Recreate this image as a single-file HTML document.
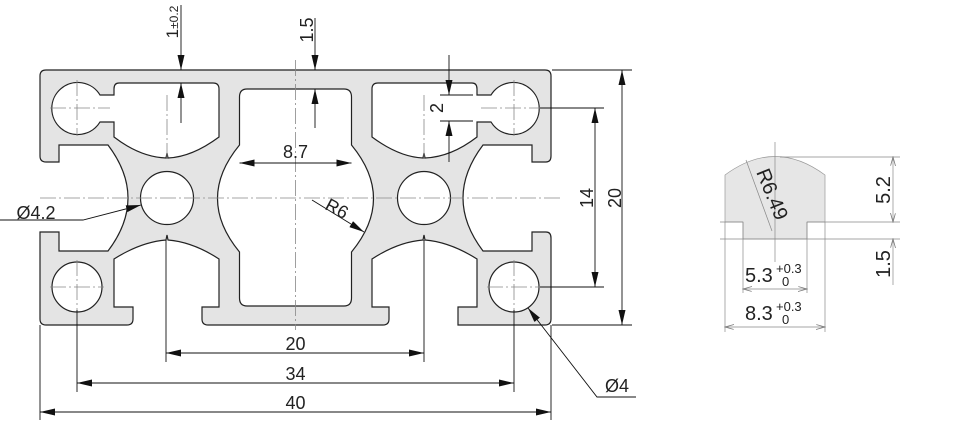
<!DOCTYPE html>
<html><head><meta charset="utf-8"><style>
html,body{margin:0;padding:0;background:#fff;}
svg{display:block;font-family:"Liberation Sans",Arial,sans-serif;}
</style></head><body>
<svg width="956" height="439" viewBox="0 0 956 439" xmlns="http://www.w3.org/2000/svg">
<defs>
<marker id="a" markerUnits="userSpaceOnUse" markerWidth="16" markerHeight="8" refX="15" refY="3.5" orient="auto-start-reverse">
<path d="M0,0 L15,3.5 L0,7 z" fill="#111"/></marker>
<marker id="s" markerUnits="userSpaceOnUse" markerWidth="10" markerHeight="6" refX="9" refY="2.5" orient="auto-start-reverse">
<path d="M0,0 L9,2.5 L0,5" fill="none" stroke="#777" stroke-width="0.8"/></marker>
</defs>

<path d="M46,70 H545 Q551,70 551,76 V156 Q551,162 546,162 H532 V145 H483 Q443,198 483,251 H532 V232 H546 Q551,232 551,238 V319 Q551,325 545,325 H458 V307 H477 V259 Q450,242 425,240 L424,235 L423,240 Q398,242 372,259 V307 H389 V319 Q389,325 383,325 H208 Q202,325 202,319 V307 H219 V259 Q193,242 168,240 L167,235 L166,240 Q141,242 114,259 V307 H133 V319 Q133,325 127,325 H46 Q40,325 40,319 V232 H59 V251 H108 Q148,198 108,145 H59 V162 H46 Q40,162 40,156 V76 Q40,70 46,70 Z" fill="#e4e4e4" stroke="#222" stroke-width="1.2"/>
<g fill="#fff" stroke="#222" stroke-width="1.2">
<path d="M247,89 H344 Q351.5,89 351.5,97 V145 Q395.5,198.5 351.5,252 V298 Q351.5,306 344,306 H247 Q239.5,306 239.5,298 V252 Q195.5,198.5 239.5,145 V97 Q239.5,89 247,89 Z"/>
<g id="L">
<path d="M119,83 H213 Q219,83 219,89 V137 Q192,157 168,158 L167,153 L166,158 Q140,157 114,137 V122 H100 A26 26 0 1 1 100,95 H114 V89 Q114,83 119,83 Z"/>
<circle cx="167" cy="198" r="26.5"/>
<circle cx="77" cy="287" r="25"/>
</g>
<use href="#L" transform="matrix(-1 0 0 1 591 0)"/>
</g>

<g stroke="#888" stroke-width="0.8" stroke-dasharray="16 3 2 3" fill="none">
<line x1="40" y1="198" x2="560" y2="198"/>
<line x1="295.5" y1="60" x2="295.5" y2="330"/>
<line x1="167" y1="95" x2="167" y2="160"/>
<line x1="424" y1="95" x2="424" y2="160"/>
<line x1="50" y1="108" x2="110" y2="108"/><line x1="481" y1="108" x2="541" y2="108"/>
<line x1="77" y1="80" x2="77" y2="136"/><line x1="514" y1="80" x2="514" y2="136"/>
<line x1="50" y1="287" x2="104" y2="287"/><line x1="487" y1="287" x2="541" y2="287"/>
<line x1="77" y1="260" x2="77" y2="312"/><line x1="514" y1="260" x2="514" y2="312"/>
</g>

<g stroke="#111" stroke-width="0.9" fill="none">
<line x1="181" y1="5" x2="181" y2="70" marker-end="url(#a)"/>
<line x1="181" y1="123" x2="181" y2="83" marker-end="url(#a)"/>
<line x1="315" y1="18" x2="315" y2="70" marker-end="url(#a)"/>
<line x1="315" y1="128" x2="315" y2="89" marker-end="url(#a)"/>
<line x1="449" y1="55" x2="449" y2="95" marker-end="url(#a)"/>
<line x1="449" y1="162" x2="449" y2="121" marker-end="url(#a)"/>
<line x1="440" y1="95" x2="473" y2="95"/><line x1="440" y1="121" x2="473" y2="121"/>
<line x1="239.5" y1="163" x2="351.5" y2="163" marker-start="url(#a)" marker-end="url(#a)"/>
<line x1="312" y1="200" x2="364" y2="232" marker-end="url(#a)"/>
<polyline points="0,220 83,220 141,205" marker-end="url(#a)"/>
<polyline points="636,397 597,397 528,308" marker-end="url(#a)"/>
<line x1="552" y1="70" x2="632" y2="70"/><line x1="552" y1="325" x2="632" y2="325"/>
<line x1="540" y1="108" x2="604" y2="108"/><line x1="540" y1="287" x2="604" y2="287"/>
<line x1="622" y1="70" x2="622" y2="325" marker-start="url(#a)" marker-end="url(#a)"/>
<line x1="595" y1="108" x2="595" y2="287" marker-start="url(#a)" marker-end="url(#a)"/>
<line x1="166" y1="240" x2="166" y2="362"/><line x1="424" y1="240" x2="424" y2="362"/>
<line x1="77" y1="310" x2="77" y2="392"/><line x1="514" y1="310" x2="514" y2="392"/>
<line x1="40" y1="325" x2="40" y2="420"/><line x1="551" y1="325" x2="551" y2="420"/>
<line x1="166" y1="353" x2="424" y2="353" marker-start="url(#a)" marker-end="url(#a)"/>
<line x1="77" y1="383" x2="514" y2="383" marker-start="url(#a)" marker-end="url(#a)"/>
<line x1="40" y1="412" x2="551" y2="412" marker-start="url(#a)" marker-end="url(#a)"/>
</g>

<g fill="#222" font-size="18" text-anchor="middle">
<text transform="translate(178,22) rotate(-90)" font-size="17">1<tspan font-size="12">±0.2</tspan></text>
<text transform="translate(313,30) rotate(-90)">1.5</text>
<text transform="translate(443,108) rotate(-90)">2</text>
<text x="295.5" y="158">8.7</text>
<text transform="translate(334,214) rotate(28)">R6</text>
<text x="36" y="219">Ø4.2</text>
<text x="617" y="392">Ø4</text>
<text transform="translate(593,198) rotate(-90)">14</text>
<text transform="translate(621,198) rotate(-90)">20</text>
<text x="295.5" y="350">20</text>
<text x="295.5" y="380">34</text>
<text x="295.5" y="409">40</text>
</g>

<path d="M725,222 V175 Q775,138 825,175 V222 H807 V239 H743 V222 Z" fill="#e6e6e6" stroke="#999" stroke-width="0.7"/>
<g stroke="#888" stroke-width="0.7" fill="none">
<line x1="775" y1="142" x2="775" y2="262"/>
<line x1="746" y1="160" x2="772" y2="231"/>
<line x1="720" y1="222" x2="743" y2="222"/><line x1="807" y1="222" x2="900" y2="222"/>
<line x1="720" y1="239" x2="900" y2="239"/>
<line x1="780" y1="157" x2="900" y2="157"/>
<line x1="743" y1="222" x2="743" y2="293"/><line x1="807" y1="222" x2="807" y2="293"/>
<line x1="725" y1="222" x2="725" y2="332"/><line x1="825" y1="222" x2="825" y2="332"/>
<line x1="893" y1="157" x2="893" y2="222" marker-start="url(#s)" marker-end="url(#s)"/>
<line x1="893" y1="239" x2="893" y2="285" marker-start="url(#s)"/>
<line x1="743" y1="289" x2="807" y2="289" marker-start="url(#s)" marker-end="url(#s)"/>
<line x1="725" y1="327" x2="825" y2="327" marker-start="url(#s)" marker-end="url(#s)"/>
</g>
<g fill="#222" font-size="20">
<text transform="translate(756,172) rotate(68)">R6.49</text>
<text transform="translate(890,190) rotate(-90)" text-anchor="middle">5.2</text>
<text transform="translate(890,264) rotate(-90)" text-anchor="middle">1.5</text>
<text x="745" y="282">5.3</text>
<text x="776" y="273" font-size="13">+0.3</text>
<text x="782" y="286" font-size="13">0</text>
<text x="745" y="320">8.3</text>
<text x="776" y="311" font-size="13">+0.3</text>
<text x="782" y="324" font-size="13">0</text>
</g>
</svg>
</body></html>
